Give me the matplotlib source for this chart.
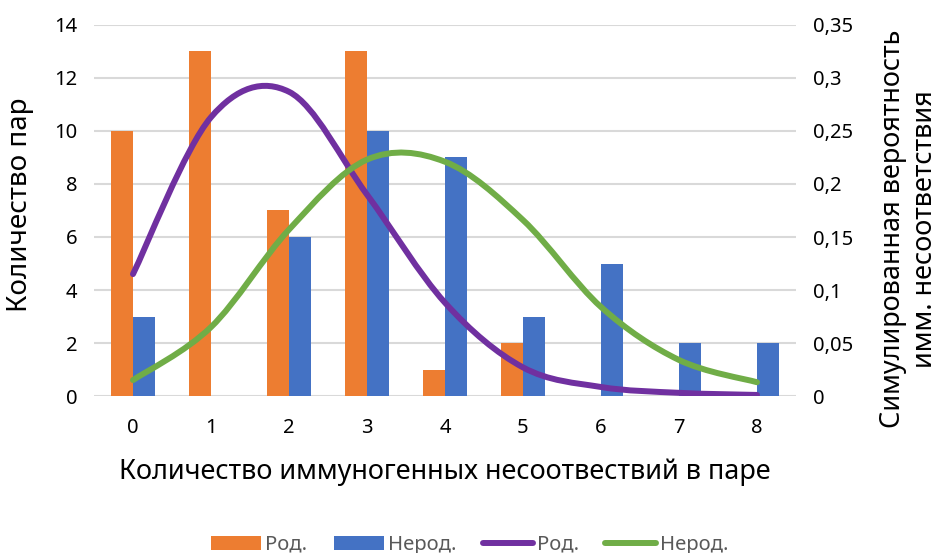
import matplotlib.pyplot as plt
import numpy as np
from matplotlib.path import Path
from matplotlib.patches import PathPatch, Patch
from matplotlib.lines import Line2D

plt.rcParams['font.family'] = ['Noto Sans', 'DejaVu Sans']

# Данные
kategorii = [0, 1, 2, 3, 4, 5, 6, 7, 8]
rod = [10, 13, 7, 13, 1, 2, 0, 0, 0]
nerod = [3, 0, 6, 10, 9, 3, 5, 2, 2]
ver_rod = [0.115, 0.263, 0.287, 0.19, 0.088, 0.027, 0.0085, 0.003, 0.001]
ver_nerod = [0.015, 0.065, 0.157, 0.223, 0.221, 0.166, 0.084, 0.034, 0.013]
levye_metki = [0, 2, 4, 6, 8, 10, 12, 14]
pravye_metki = [0, 0.05, 0.1, 0.15, 0.2, 0.25, 0.3, 0.35]

ORANGE = '#ED7D31'
BLUE = '#4472C4'
PURPLE = '#7030A0'
GREEN = '#70AD47'
GRID = '#D9D9D9'


def sglazhennaya_liniya(ax, x, y, color):
    # Сглаженная линия как в Excel (кривые Безье через точки)
    x = np.asarray(x, float)
    y = np.asarray(y, float)
    n = len(x)
    verts = [(x[0], y[0])]
    codes = [Path.MOVETO]
    for i in range(n - 1):
        p0 = (x[max(i - 1, 0)], y[max(i - 1, 0)])
        p1 = (x[i], y[i])
        p2 = (x[i + 1], y[i + 1])
        p3 = (x[min(i + 2, n - 1)], y[min(i + 2, n - 1)])
        c1 = (p1[0] + (p2[0] - p0[0]) / 6, p1[1] + (p2[1] - p0[1]) / 6)
        c2 = (p2[0] - (p3[0] - p1[0]) / 6, p2[1] - (p3[1] - p1[1]) / 6)
        verts += [c1, c2, p2]
        codes += [Path.CURVE4] * 3
    patch = PathPatch(Path(verts, codes), facecolor='none', edgecolor=color,
                      lw=4.3, capstyle='round', joinstyle='round', zorder=5)
    ax.add_patch(patch)


fig = plt.figure(figsize=(9.39, 5.53), dpi=100)
ax = fig.add_axes([0.1001, 0.2839, 0.7476, 0.6709])
ax2 = ax.twinx()

x = np.array(kategorii)
w = 0.28
ax.bar(x - w / 2, rod, width=w, color=ORANGE, zorder=3)
ax.bar(x + w / 2, nerod, width=w, color=BLUE, zorder=3)

ax.set_xlim(-0.5, 8.5)
ax.set_ylim(0, 14)
ax.set_yticks(levye_metki)
ax.set_xticks(kategorii)
ax.set_xticklabels([str(k) for k in kategorii])
ax.grid(axis='y', color=GRID, lw=1.5, zorder=0)
ax.set_axisbelow(True)
for s in ax.spines.values():
    s.set_visible(False)
for s in ax2.spines.values():
    s.set_visible(False)
ax.tick_params(axis='both', length=0, labelsize=14.5, colors='black')
ax.tick_params(axis='x', pad=16)
ax.tick_params(axis='y', pad=12)

sglazhennaya_liniya(ax2, kategorii, ver_rod, PURPLE)
sglazhennaya_liniya(ax2, kategorii, ver_nerod, GREEN)
ax2.set_ylim(0, 0.35)
ax2.set_yticks(pravye_metki)
ax2.set_yticklabels([('%g' % v).replace('.', ',') for v in pravye_metki])
ax2.tick_params(axis='y', length=0, labelsize=14.5, colors='black', pad=12)

ax.set_xlabel('Количество иммуногенных несоотвествий в паре', fontsize=19.5, labelpad=14)
ax.set_ylabel('Количество пар', fontsize=20)
ax.yaxis.set_label_coords(-0.085, 0.515)
ax2.set_ylabel('Симулированная вероятность\nимм. несоответствия', fontsize=19.5,
               linespacing=1.2)
ax2.yaxis.set_label_coords(1.118, 0.45)

handles = [
    Patch(facecolor=ORANGE, label='Род.'),
    Patch(facecolor=BLUE, label='Нерод.'),
    Line2D([], [], color=PURPLE, lw=4.3, solid_capstyle='round', label='Род.'),
    Line2D([], [], color=GREEN, lw=4.3, solid_capstyle='round', label='Нерод.'),
]
fig.legend(handles=handles, loc='lower center', bbox_to_anchor=(0.5, -0.036), ncol=4,
           frameon=False, fontsize=14.5, handlelength=2.5, handleheight=0.7,
           columnspacing=1.3, handletextpad=0.2, labelcolor='#595959')

plt.savefig('out.png', dpi=100)
